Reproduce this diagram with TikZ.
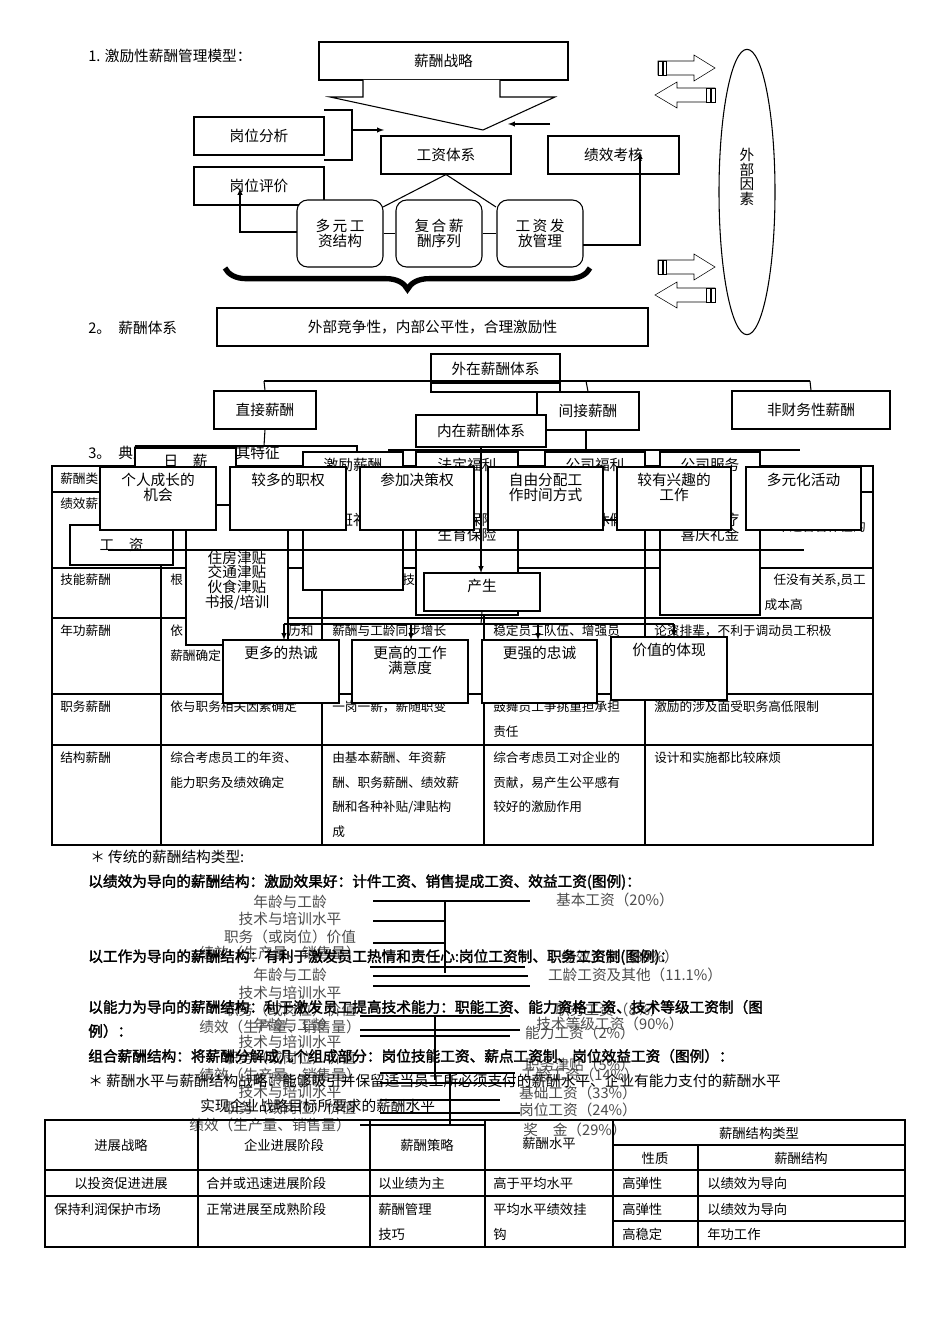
\documentclass[tikz,border=0pt]{standalone}
\usepackage{fontspec}
\setmainfont{Noto Sans CJK SC}[AutoFakeBold=2]
\usetikzlibrary{decorations.pathreplacing,shapes.geometric}
\newcommand\fz[1]{\fontsize{#1}{#1}\selectfont}
\tikzset{
  bx/.style={draw,fill=white,line width=0.8pt,inner sep=1pt,align=center,font=\fz{11}},
  tx/.style={inner sep=0pt,anchor=west,font=\fz{11}},
  tc/.style={inner sep=0pt,font=\fz{11}},
  ts/.style={inner sep=0pt,anchor=west,font=\fz{9.5}},
  gr/.style={inner sep=0pt,font=\fz{11},text=black!70},
  bd/.style={inner sep=0pt,anchor=west,font=\fz{11}\bfseries},
  ln/.style={line width=0.8pt},
  ar/.style={line width=0.8pt,-latex},
}
\newcommand\Bx[7][]{\node[bx,#1,minimum width={(#5-#3)*0.75pt},minimum height={(#6-#4)*0.75pt}] (#2) at ({(#3+#5)/2},{(#4+#6)/2}) {#7};}
\newcommand\Bt[7][]{\node[bx,#1,minimum width={(#5-#3)*0.75pt},minimum height={(#6-#4)*0.75pt}] (#2) at ({(#3+#5)/2},{(#4+#6)/2}) {};
  \node[tc,anchor=north,align=center,yshift=-5pt] at (#2.north) {#7};}
\newcommand\RA[2]{\draw[fill=white] (#1,#2-7)--(#1+36,#2-7)--(#1+36,#2-13)--(#1+57,#2)--(#1+36,#2+13)--(#1+36,#2+7)--(#1,#2+7)--cycle;
  \draw[fill=white] (#1,#2-7) rectangle (#1+4,#2+7); \draw[fill=white] (#1+5,#2-7) rectangle (#1+8,#2+7);}
\newcommand\LA[2]{\draw[fill=white] (#1+60,#2-7)--(#1+22,#2-7)--(#1+22,#2-13)--(#1,#2)--(#1+22,#2+13)--(#1+22,#2+7)--(#1+60,#2+7)--cycle;
  \draw[fill=white] (#1+56,#2-7) rectangle (#1+60,#2+7); \draw[fill=white] (#1+51,#2-7) rectangle (#1+55,#2+7);}
\begin{document}
\begin{tikzpicture}[x=0.75pt,y=-0.75pt]
\useasboundingbox[fill=white] (0,0) rectangle (950,1344);
\node[tx] (t1) at (88,56) {1. 激励性薪酬管理模型：};
\Bx{zl}{319}{42}{568}{80}{薪酬战略}
\draw[ln,fill=white] (363,80)--(363,97)--(330,97)--(483,130)--(555,97)--(500,97)--(500,80);
\Bx{gwfx}{194}{117}{324}{155}{岗位分析}
\draw[ln] (324,110)--(352,110)--(352,160)--(324,160);
\coordinate (pa) at (352,130);
\Bx{gztx}{381}{136}{511}{174}{工资体系}
\draw[ar] (pa)--(384,130);
\coordinate (pb) at (550,124);
\draw[ar] (pb)--(508,124);
\Bx{jxkh}{548}{136}{679}{174}{绩效考核}
\Bx{gwpj}{194}{167}{324}{205}{岗位评价}
\Bx[rounded corners=8pt]{dy}{297}{200}{383}{267}{多\,元\,工\\资结构}
\Bx[rounded corners=8pt]{fh}{396}{200}{482}{267}{复\,合\,薪\\酬序列}
\Bx[rounded corners=8pt]{ff}{497}{200}{583}{267}{工\,资\,发\\放管理}
\draw[ln] (gztx.south)--(383,207);
\draw[ln] (gztx.south)--(496,207);
\draw[ln] (dy.east)--(fh.west);
\draw[ln] (fh.east)--(ff.west);
\draw[ar] (297,232)--(240,232)--(240,188);
\draw[ar] (583,245)--(640,245)--(640,152);
\draw[decorate,decoration={brace,amplitude=16pt,mirror},line width=4pt] (225,268)--(590,268);
\node[draw,ellipse,line width=0.8pt,minimum width=42pt,minimum height=214pt,inner sep=0pt] (wb) at (747,192) {};
\node[tc,align=center] at (747,177) {外\\部\\因\\素};
\RA{658}{68} \LA{655}{95} \RA{658}{267} \LA{655}{295}
\node[tx] (t2) at (88,328) {2。\; 薪酬体系};
\Bx{jzx}{217}{308}{648}{346}{外部竞争性，内部公平性，合理激励性}
\Bx{wz}{431}{354}{560}{383}{外在薪酬体系}
\draw[ln] (431,383)--(431,392)--(537,392);
\draw[ln] (560,383)--(560,392);
\draw[ln] (264,381)--(810,381);
\Bx{zj}{214}{391}{316}{429}{直接薪酬}
\Bx{jj}{537}{392}{639}{430}{间接薪酬}
\Bx{fc}{732}{391}{890}{429}{非财务性薪酬}
\draw[ln] (264,381)--(zj.north);
\draw[ln] (586,381)--(jj.north);
\draw[ln] (810,381)--(fc.north);
\draw[ln] (586,430)--(586,470);
\node[tx] (t3) at (88,453) {3。\; 典型的薪酬类型及其特征};
\draw[ln] (52,466) rectangle (873,845);
\foreach \y in {492,568,618,694,745} \draw[ln] (52,\y)--(873,\y);
\foreach \x in {161,322,484,645} \draw[ln] (\x,466)--(\x,845);
\node[ts] at (60,479) {薪酬类型};
\node[ts] at (60,504) {绩效薪酬};
\node[ts] at (60,580) {技能薪酬};
\node[ts] at (60,631) {年功薪酬};
\node[ts] at (60,707) {职务薪酬};
\node[ts] at (60,758) {结构薪酬};
\node[ts,anchor=east] at (866,527) {不适合合作性的};
\node[ts] at (170,580) {根}; \node[ts] at (402,580) {技};
\node[ts,anchor=east] at (866,580) {任没有关系,员工};
\node[ts,anchor=east] at (803,605) {成本高};
\node[ts] at (170,631) {依}; \node[ts] at (170,656) {薪酬确定};
\node[ts] at (288,631) {历和};
\node[ts] at (332,631) {薪酬与工龄同步增长};
\node[ts] at (493,631) {稳定员工队伍、增强员};
\node[ts] at (654,631) {论资排辈，不利于调动员工积极};
\node[ts] at (170,707) {依与职务相关因素确定};
\node[ts] at (332,707) {一岗一薪，薪随职变};
\node[ts] at (493,707) {鼓舞员工争挑重担承担};
\node[ts] at (493,732) {责任};
\node[ts] at (654,707) {激励的涉及面受职务高低限制};
\node[ts] at (170,758) {综合考虑员工的年资、};
\node[ts] at (170,783) {能力职务及绩效确定};
\node[ts] at (332,758) {由基本薪酬、年资薪};
\node[ts] at (332,783) {酬、职务薪酬、绩效薪};
\node[ts] at (332,807) {酬和各种补贴/津贴构};
\node[ts] at (332,832) {成};
\node[ts] at (493,758) {综合考虑员工对企业的};
\node[ts] at (493,783) {贡献，易产生公平感有};
\node[ts] at (493,807) {较好的激励作用};
\node[ts] at (654,758) {设计和实施都比较麻烦};
\draw[ln] (zj.south)--(264,446);
\draw[ln] (135,446)--(357,446)--(357,452);
\draw[ln] (388,450)--(800,450);
\Bt{rx}{135}{448}{236}{520}{日\quad 薪}
\Bx{gz}{70}{525}{173}{565}{工\quad 资}
\Bx{jt}{186}{505}{288}{645}{\\[6pt]住房津贴\\交通津贴\\伙食津贴\\书报/培训}
\Bt{jl}{303}{452}{403}{590}{激励薪酬\\[30pt]加班补贴}
\Bt{fd}{416}{452}{518}{615}{法定福利\\[30pt]工伤保险\\生育保险}
\Bt{gs}{545}{452}{645}{520}{公司福利\\[30pt]带薪休假}
\Bt{fw}{660}{452}{760}{615}{公司服务\\[30pt]子女医疗\\喜庆礼金}
\Bx{nz}{416}{415}{546}{447}{内在薪酬体系}
\draw[ln] (108,550)--(804,550);
\draw[ln] (nz.south)--(481,550);
\draw[ar] (481,550)--(481,573);
\Bt{f1}{100}{467}{216}{530}{个人成长的\\机会}
\Bt{f2}{230}{467}{346}{530}{较多的职权}
\Bt{f3}{360}{467}{474}{530}{参加决策权}
\Bt{f4}{488}{467}{603}{530}{自由分配工\\作时间方式}
\Bt{f5}{617}{467}{731}{530}{较有兴趣的\\工作}
\Bt{f6}{746}{467}{861}{530}{多元化活动}
\Bt{cs}{424}{573}{540}{611}{产生}
\draw[ln] (cs.south)--(481,624);
\draw[ln] (284,624)--(674,624);
\Bt{g1}{223}{640}{339}{703}{更多的热诚}
\Bt{g2}{352}{640}{468}{703}{更高的工作\\满意度}
\Bt{g3}{482}{640}{597}{703}{更强的忠诚}
\Bt{g4}{611}{637}{727}{700}{价值的体现}
\draw[ar] (284,624)--(284,640);
\draw[ar] (411,624)--(411,640);
\draw[ar] (538,624)--(538,640);
\draw[ar] (674,624)--(674,637);
\node[tx] (t4) at (90,857) {＊ 传统的薪酬结构类型:};
\node[gr] (a1) at (290,902) {年龄与工龄};
\node[gr] (a2) at (290,919) {技术与培训水平};
\node[gr] (a3) at (290,937) {职务（或岗位）价值};
\node[gr] (a4) at (280,953) {绩效（生产量、销售量）};
\node[gr] (r1) at (615,900) {基本工资（20\%）};
\node[gr] (r2) at (620,957) {绩效工资（80\%）};
\draw[ln] (373,901)--(530,901); \draw[ln] (445,901)--(445,973);
\draw[ln] (373,921)--(445,921);
\draw[ln] (373,943)--(445,943);
\node[gr] (b1) at (290,975) {年龄与工龄};
\node[gr] (b2) at (290,993) {技术与培训水平};
\node[gr] (b3) at (290,1010) {职务（或岗位）价值};
\node[gr] (b4) at (280,1027) {绩效（生产量、销售量）};
\node[gr] (s1) at (635,975) {工龄工资及其他（11.1\%）};
\draw[ln] (370,967)--(525,967); \draw[ln] (373,976)--(528,976);
\draw[ln] (373,986)--(530,986);
\node[gr] (c1) at (290,1025) {年龄与工龄};
\node[gr] (c2) at (290,1042) {技术与培训水平};
\node[gr] (c3) at (290,1058) {职务（或岗位）价值};
\node[gr] (c4) at (280,1075) {绩效（生产量、销售量）};
\node[gr] (u0) at (610,1010) {职务工资（8\%）};
\node[gr] (u1) at (610,1024) {技术等级工资（90\%）};
\node[gr] (u2) at (580,1033) {能力工资（2\%）};
\draw[ln] (360,1016)--(510,1016); \draw[ln] (435,1016)--(435,1080);
\draw[ln] (360,1030)--(520,1030); \draw[ln] (360,1036)--(510,1036);
\node[gr] (d1) at (290,1080) {年龄与工龄};
\node[gr] (d2) at (290,1092) {技术与培训水平};
\node[gr] (d3) at (290,1108) {职务（或岗位）价值};
\node[gr] (d4) at (270,1125) {绩效（生产量、销售量）};
\node[gr] (v1) at (580,1065) {职务津贴（5\%）};
\node[gr] (v2) at (580,1075) {工龄工资（14\%）};
\node[gr] (v3) at (578,1093) {基础工资（33\%）};
\node[gr] (v4) at (578,1110) {岗位工资（24\%）};
\node[gr] (v5) at (575,1130) {奖\quad 金（29\%）};
\draw[ln] (380,1073)--(515,1073); \draw[ln] (380,1083)--(515,1083);
\draw[ln] (380,1100)--(500,1100); \draw[ln] (380,1113)--(520,1113);
\draw[ln] (360,1125)--(485,1125); \draw[ln] (450,1073)--(450,1125);
\node[bd] (h1) at (88,882) {以绩效为导向的薪酬结构：激励效果好：计件工资、销售提成工资、效益工资(图例)：};
\node[bd] (h2) at (88,957) {以工作为导向的薪酬结构：有利于激发员工热情和责任心:岗位工资制、职务工资制(图例)：};
\node[bd] (h3) at (88,1007) {以能力为导向的薪酬结构：利于激发员工提高技术能力：职能工资、能力资格工资、技术等级工资制（图};
\node[bd] (h3b) at (88,1031) {例）：};
\node[bd] (h4) at (88,1056) {组合薪酬结构：将薪酬分解成几个组成部分：岗位技能工资、薪点工资制、岗位效益工资（图例）：};
\node[tx] (h5) at (88,1081) {＊ 薪酬水平与薪酬结构战略：能够吸引并保留适当员工所必须支付的薪酬水平、企业有能力支付的薪酬水平};
\node[tx] (h6) at (200,1106) {实现企业战略目标所要求的薪酬水平};
\tikzset{tb/.style={inner sep=0pt,font=\fz{10}}}
\draw[ln] (45,1120) rectangle (905,1247);
\draw[ln] (45,1170)--(905,1170); \draw[ln] (45,1196)--(905,1196);
\draw[ln] (613,1145)--(905,1145); \draw[ln] (613,1221)--(905,1221);
\foreach \x in {198,370,485,613} \draw[ln] (\x,1120)--(\x,1247);
\draw[ln] (698,1145)--(698,1247);
\node[tb] at (121,1145) {进展战略};
\node[tb] at (284,1145) {企业进展阶段};
\node[tb] at (427,1145) {薪酬策略};
\node[tb] at (549,1143) {薪酬水平};
\node[tb] at (759,1133) {薪酬结构类型};
\node[tb] at (655,1158) {性质};
\node[tb] at (801,1158) {薪酬结构};
\node[tb] at (121,1183) {以投资促进进展};
\node[tb,anchor=west] at (206,1183) {合并或迅速进展阶段};
\node[tb,anchor=west] at (378,1183) {以业绩为主};
\node[tb,anchor=west] at (493,1183) {高于平均水平};
\node[tb,anchor=west] at (622,1183) {高弹性};
\node[tb,anchor=west] at (707,1183) {以绩效为导向};
\node[tb,anchor=west] at (54,1209) {保持利润保护市场};
\node[tb,anchor=west] at (206,1209) {正常进展至成熟阶段};
\node[tb,anchor=west] at (378,1209) {薪酬管理};
\node[tb,anchor=west] at (378,1234) {技巧};
\node[tb,anchor=west] at (493,1209) {平均水平绩效挂};
\node[tb,anchor=west] at (493,1234) {钩};
\node[tb,anchor=west] at (622,1209) {高弹性};
\node[tb,anchor=west] at (707,1209) {以绩效为导向};
\node[tb,anchor=west] at (622,1234) {高稳定};
\node[tb,anchor=west] at (707,1234) {年功工作};
\end{tikzpicture}
\end{document}
